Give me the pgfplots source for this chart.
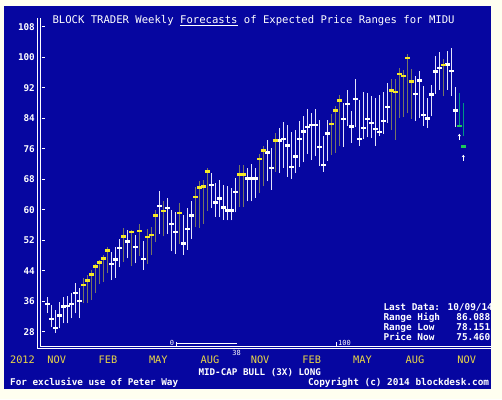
\documentclass[border=0pt]{standalone}
\usepackage{pgfplots}
\pgfplotsset{compat=1.18}
\usepackage{pgfplotstable}
\usepackage{fontspec}
\setmainfont{DejaVu Sans Mono}
\usetikzlibrary{arrows.meta}
\definecolor{bgblue}{RGB}{6,6,160}
\definecolor{cream}{RGB}{255,255,240}
\definecolor{myyel}{RGB}{245,232,40}
\definecolor{monyel}{RGB}{235,215,70}
\definecolor{dgray}{RGB}{118,118,100}
\definecolor{wline}{RGB}{228,228,250}
\definecolor{tealline}{RGB}{0,150,130}
\definecolor{grn}{RGB}{30,200,90}

\pgfplotstableread{
i lo hi p
0 33.0 37.0 35.2
1 29.3 35.0 31.3
2 27.7 33.8 29.0
3 28.9 35.9 32.3
4 30.2 37.2 34.6
5 30.2 37.4 34.8
6 31.5 38.1 35.3
7 32.8 40.8 38.2
8 31.5 39.4 36.0
16 41.5 49.0 45.8
17 42.2 50.3 46.9
18 44.9 52.2 49.9
20 47.2 54.7 51.7
22 45.9 53.3 50.2
24 44.3 51.7 47.1
28 53.7 64.8 61.0
30 53.7 63.1 60.4
31 49.1 60.0 56.2
32 48.5 59.3 54.1
34 48.2 58.7 51.1
35 49.5 60.4 54.9
36 52.3 62.2 58.5
41 60.4 69.6 66.5
42 58.1 67.0 61.9
43 58.2 67.9 62.9
44 57.4 66.5 60.6
45 57.2 66.1 59.8
46 57.2 65.8 59.8
47 59.3 68.3 64.6
50 62.2 70.9 68.2
51 62.2 72.1 68.2
52 63.1 70.9 68.2
55 67.4 78.3 75.0
56 65.2 76.2 70.9
58 69.6 81.4 78.1
59 70.9 82.9 78.6
60 68.7 82.1 76.8
61 68.0 80.3 71.2
62 69.6 81.0 74.0
63 71.2 83.2 78.5
64 72.4 84.6 80.5
65 74.7 86.4 81.7
66 73.1 85.3 82.2
67 74.0 86.4 82.2
68 71.5 83.6 76.4
69 70.0 79.2 71.8
70 72.9 83.4 80.0
74 76.4 88.0 83.8
75 82.0 91.5 87.8
76 77.5 85.8 81.8
77 81.7 94.3 89.0
78 76.8 88.7 78.5
79 78.5 91.0 81.4
80 79.0 90.6 83.8
81 78.8 89.7 82.7
82 76.8 89.3 81.1
83 79.2 90.2 80.4
84 79.9 91.0 83.2
85 82.7 93.2 86.9
92 83.2 95.0 90.3
93 84.0 96.3 93.9
94 82.0 92.5 84.9
95 81.4 89.3 83.9
96 84.5 92.8 90.2
97 90.4 100.4 96.2
98 91.5 101.3 97.1
100 91.5 101.7 98.1
101 89.9 102.4 96.3
102 81.7 92.3 86.0
}\whitebars

\pgfplotstableread{
i lo hi p
9 35.6 42.0 40.3
10 35.6 42.9 41.4
11 36.3 44.2 43.0
12 38.1 45.7 45.1
13 40.5 46.8 46.1
14 41.1 48.1 47.2
15 43.5 50.1 49.3
19 46.4 55.1 53.0
21 45.2 54.8 54.2
23 47.9 56.3 54.4
25 45.8 54.9 52.8
26 48.2 55.4 53.4
27 51.4 60.0 58.5
29 53.0 62.2 59.7
33 51.1 61.7 59.2
37 55.4 65.9 63.3
38 55.2 67.4 65.8
39 56.3 67.9 66.1
40 59.6 70.9 70.0
48 60.7 71.8 69.2
49 60.7 71.8 69.2
53 64.5 74.7 73.3
54 66.1 76.6 75.5
57 70.0 80.1 78.1
71 74.4 85.2 82.5
72 74.9 87.1 86.0
73 76.6 90.2 88.6
86 80.9 94.3 91.3
87 78.3 94.3 90.8
88 84.0 97.1 95.6
89 84.3 96.7 95.0
90 85.3 100.9 99.8
91 83.8 96.9 93.6
99 89.7 99.5 97.9
}\yellowbars

\pgfplotstableread{
i lo hi p
103 82.0 90.6 82.0
104 79.4 88.0 76.6
}\greenbars

\pgfplotstableread{
x y u v
103 78.4 0 1.5
104 72.9 0 1.5
}\arrowsdata

\begin{document}
\begin{tikzpicture}[x=1pt,y=1pt]
\useasboundingbox (0,0) rectangle (502,399);
\fill[cream] (0,0) rectangle (502,399);
\fill[bgblue] (4,9.7) rectangle (490.7,393);
\begin{axis}[
  at={(40pt,53pt)}, anchor=south west,
  scale only axis, width=450.7pt, height=328pt,
  xmin=-1.825, xmax=110.85, ymin=24.249, ymax=110.28,
  axis line style={draw=none},
  clip=false,
  tick pos=left,
  tick align=inside,
  ytick={28,36,...,108},
  ytick style={white, line width=1pt, xshift=1.7pt},
  major tick length=2.8pt,
  /pgf/number format/assume math mode=true,
  yticklabel style={text=white, font=\fontsize{9.3}{10}\selectfont\bfseries, anchor=east, inner sep=0pt, xshift=-5pt},
  xtick={2.35,15.18,27.75,40.68,53.2,66.1,78.8,91.9,104.85},
  xticklabels={NOV,FEB,MAY,AUG,NOV,FEB,MAY,AUG,NOV},
  xtick style={draw=none},
  xticklabel style={text=monyel, font=\fontsize{10.3}{11}\selectfont, anchor=north, inner sep=0pt, yshift=-9.5pt},
]
% range lines
\addplot[draw=none, mark=none, forget plot, error bars/.cd, y dir=plus, y explicit, error mark=none,
  error bar style={draw=wline, line width=1.2pt}]
  table[x=i, y=lo, y error plus expr=\thisrow{hi}-\thisrow{lo}] {\whitebars};
\addplot[draw=none, mark=none, forget plot, error bars/.cd, y dir=plus, y explicit, error mark=none,
  error bar style={draw=dgray, line width=1.2pt}]
  table[x=i, y=lo, y error plus expr=\thisrow{hi}-\thisrow{lo}] {\yellowbars};
\addplot[draw=none, mark=none, forget plot, error bars/.cd, y dir=plus, y explicit, error mark=none,
  error bar style={draw=tealline, line width=1.2pt}]
  table[x=i, y=lo, y error plus expr=\thisrow{hi}-\thisrow{lo}] {\greenbars};
% forecast markers
\addplot[only marks, mark=-, mark size=2.4pt, mark options={draw=white, line width=2.4pt}]
  table[x=i, y=p] {\whitebars};
\addplot[only marks, mark=-, mark size=2.4pt, mark options={draw=myyel, line width=2.4pt}]
  table[x=i, y=p] {\yellowbars};
\addplot[only marks, mark=-, mark size=2.4pt, mark options={draw=grn, line width=2.4pt}]
  table[x=i, y=p] {\greenbars};
% arrows
\addplot[white, line width=0.8pt, -{Stealth[length=2.4pt,width=3.2pt]},
  quiver={u=\thisrow{u}, v=\thisrow{v}}] table[x=x, y=y] {\arrowsdata};
% percentile gauge 0..100 at 38
\addplot[white, line width=1.6pt] coordinates {(32.175,24.905) (47.425,24.905)};
\addplot[white, line width=0.9pt] coordinates {(32.175,24.25) (32.175,25.35)};
\addplot[white, line width=0.9pt] coordinates {(72.175,24.25) (72.175,25.35)};
\end{axis}
% double axis lines
\draw[white, line width=0.9pt] (40,381) -- (40,53) -- (490.7,53);
\draw[white, line width=0.9pt] (37.4,381) -- (37.4,50.4) -- (490.7,50.4);
% texts
\node[anchor=base west, text=white, font=\fontsize{10.6}{12}\selectfont, inner sep=0pt] at (52.3,375.7)
  {BLOCK TRADER Weekly \underline{Forecasts} of Expected Price Ranges for MIDU};
\node[anchor=north, text=monyel, font=\fontsize{10.3}{11}\selectfont, inner sep=0pt] at (22.5,43.5) {2012};
\node[text=white, font=\fontsize{7}{8}\selectfont, inner sep=0pt] at (172,55.8) {0};
\node[text=white, font=\fontsize{7}{8}\selectfont, inner sep=0pt] at (344.5,55.8) {100};
\node[text=white, font=\fontsize{7}{8}\selectfont, inner sep=0pt] at (236.7,45.8) {38};
\begin{scope}[every node/.style={text=white, font=\fontsize{9.4}{10}\selectfont\bfseries, inner sep=0pt}]
\node[anchor=base west] at (383.3,88.7) {Last Data: 10/09/14};
\node[anchor=base west] at (383.3,78.3) {Range High};
\node[anchor=base east] at (490.5,78.3) {86.088};
\node[anchor=base west] at (383.3,68.7) {Range Low};
\node[anchor=base east] at (490.5,68.7) {78.151};
\node[anchor=base west] at (383.3,59.0) {Price Now};
\node[anchor=base east] at (490.5,59.0) {75.460};
\node[anchor=base west, font=\fontsize{9.24}{10}\selectfont\bfseries] at (198.3,23.7) {MID-CAP BULL (3X) LONG};
\node[anchor=base west, font=\fontsize{9.3}{10}\selectfont\bfseries] at (10,13.7) {For exclusive use of Peter Way};
\node[anchor=base east, font=\fontsize{9.4}{10}\selectfont\bfseries] at (489.3,13.7) {Copyright (c) 2014 blockdesk.com};
\end{scope}
\end{tikzpicture}
\end{document}
